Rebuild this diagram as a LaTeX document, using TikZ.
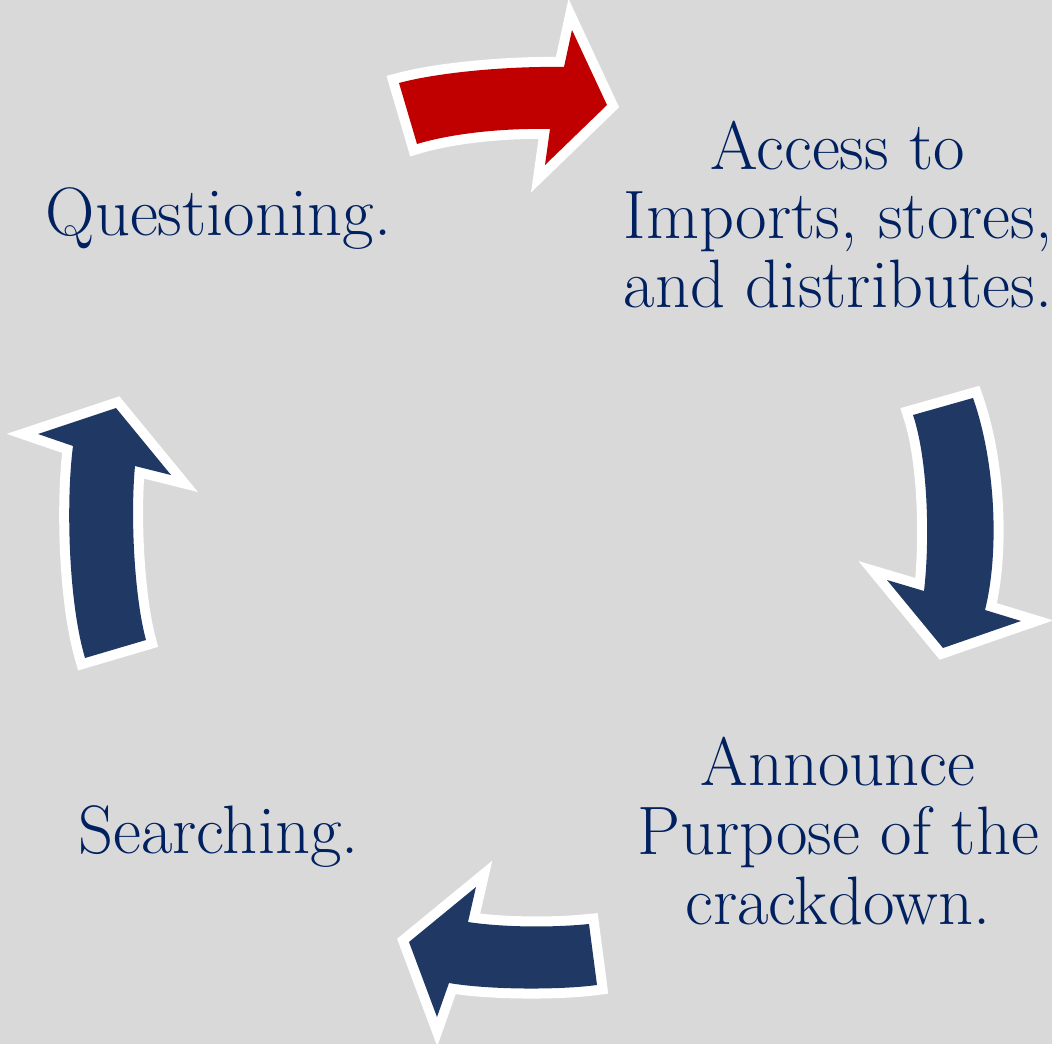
\documentclass[tikz,border=0pt]{standalone}
\usepackage{fontspec}
\usepackage{tikz}
\definecolor{bgGray}{HTML}{D9D9D9}
\definecolor{txtNavy}{HTML}{002060}
\definecolor{arrNavy}{HTML}{1F3864}
\definecolor{arrRed}{HTML}{C00000}

\begin{document}
\begin{tikzpicture}[x=0.02cm, y=-0.02cm,
                    phase/.style={align=center, inner sep=0, text=txtNavy,
                                  font=\fontsize{39}{39.3}\selectfont},
                    cyclearrow/.style={fill=#1,
                                  preaction={draw=white, line width=11.4pt, line join=miter}}]
                \fill[bgGray] (0,0) rectangle (1052,1044);
                \useasboundingbox (0,0) rectangle (1052,1044);

                \node[phase, anchor=base] (question) at (218.5,236) {Questioning.};
                \node[phase] (access) at (838,215) {Access to\\Imports, stores,\\and distributes.};
                \node[phase] (announce) at (838,831) {Announce\\Purpose of the\\crackdown.};
                \node[phase, anchor=base] (search) at (218.5,853) {Searching.};

                % question -> access
                \path[cyclearrow=arrRed] (417,144) -- (399,83)
                    .. controls (440,72) and (510,66) .. (564,67)
                    -- (572,30) -- (607,105) -- (545,165) -- (550,129)
                    .. controls (500,128) and (450,134) .. (417,144) -- cycle;
                % access -> announce
                \path[cyclearrow=arrNavy] (913,415) -- (973,398)
                    .. controls (995,460) and (1000,550) .. (985,610)
                    -- (1021,621) -- (943,648) -- (887,580) -- (924,591)
                    .. controls (930,540) and (928,460) .. (913,415) -- cycle;
                % announce -> search
                \path[cyclearrow=arrNavy] (589,924) -- (597,985)
                    .. controls (560,990) and (490,990) .. (449,983)
                    -- (437,1017) -- (409,942) -- (476,887) -- (468,922)
                    .. controls (500,927) and (550,928) .. (589,924) -- cycle;
                % search -> question
                \path[cyclearrow=arrNavy] (85,658) -- (146,640)
                    .. controls (135,600) and (130,520) .. (135,466)
                    -- (171,475) -- (116,408) -- (38,434) -- (73,446)
                    .. controls (66,500) and (68,600) .. (85,658) -- cycle;
            \end{tikzpicture}
\end{document}
